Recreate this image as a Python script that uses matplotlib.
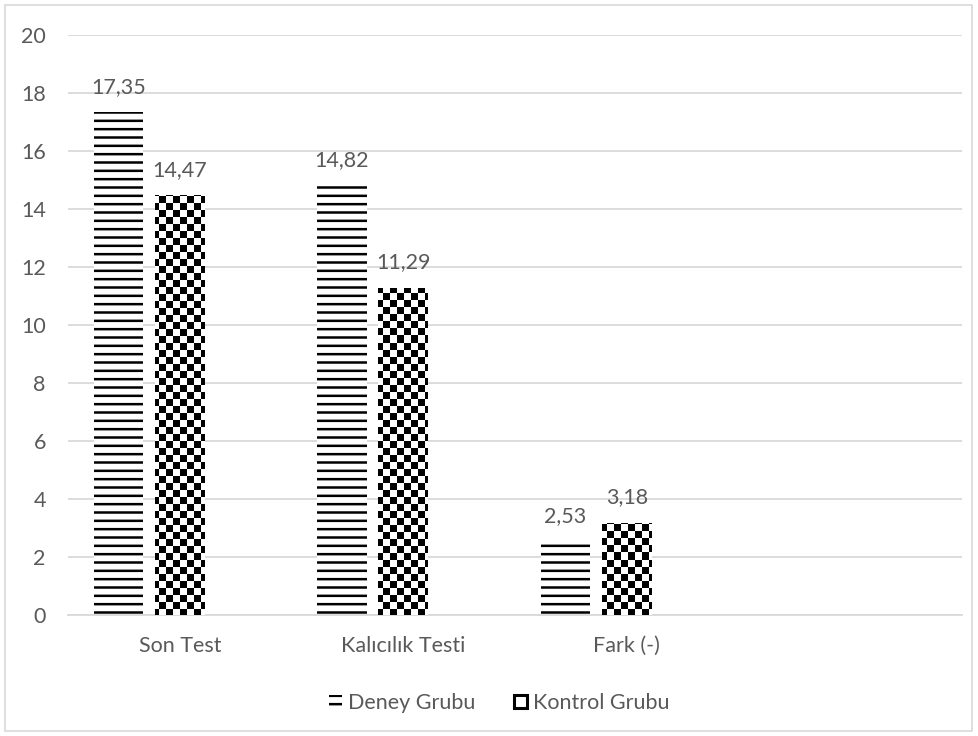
import numpy as np
import matplotlib
matplotlib.use('Agg')
import matplotlib.pyplot as plt
from matplotlib.patches import Patch, Rectangle

# veriler
kategoriler = ['Son Test', 'Kalıcılık Testi', 'Fark (-)', '']
deney = [17.35, 14.82, 2.53]
kontrol = [14.47, 11.29, 3.18]
seriler = ['Deney Grubu', 'Kontrol Grubu']

plt.rcParams['font.family'] = ['Lato', 'DejaVu Sans']
plt.rcParams['hatch.linewidth'] = 1.8
yazi = '#595959'
izgara = '#d9d9d9'
boyut = 15.5

fig = plt.figure(figsize=(9.79, 7.36), dpi=100)
ax = fig.add_axes([0.0695, 0.1644, 0.9131, 0.788])

x = np.arange(len(deney))
genislik = 0.222
kayma = 0.274

b1 = ax.bar(x - kayma, deney, genislik, color='white', edgecolor='black',
            linewidth=0, hatch='--', zorder=2)
b2 = ax.bar(x, kontrol, genislik, color='white', edgecolor='black',
            linewidth=0, zorder=2)

# dama deseni: eksen boyutunda piksel görüntüsü (7 px kare), kontrol çubuklarına kırpılıyor
kutu = ax.get_window_extent()
w, h = int(round(kutu.width)), int(round(kutu.height))
hucre = 7
yy, xx = np.mgrid[0:h, 0:w]
dama = ((yy // hucre + xx // hucre) % 2).astype(float)
for cubuk in b2:
    im = ax.imshow(dama, cmap='gray', extent=[0, 1, 0, 1], transform=ax.transAxes,
                   interpolation='nearest', aspect='auto', zorder=3)
    im.set_clip_path(cubuk)

for xs, vals in [(x - kayma, deney), (x, kontrol)]:
    for xi, v in zip(xs, vals):
        ax.annotate(f'{v:.2f}'.replace('.', ','), (xi, v), xytext=(0, 11),
                    textcoords='offset points', ha='center', va='bottom',
                    fontsize=boyut, color=yazi)

ax.set_xlim(-0.5, 3.5)
ax.set_ylim(0, 20)
ax.set_yticks(range(0, 21, 2))
ax.set_xticks(range(len(kategoriler)))
ax.set_xticklabels(kategoriler)
ax.tick_params(length=0, labelsize=boyut, colors=yazi)
ax.tick_params(axis='y', pad=16)
ax.tick_params(axis='x', pad=15)
ax.grid(axis='y', color=izgara, linewidth=1.3, zorder=0)
for s in ['left', 'right', 'top']:
    ax.spines[s].set_visible(False)
ax.spines['bottom'].set_color(izgara)
ax.spines['bottom'].set_linewidth(1.3)

tutamaklar = [Patch(facecolor='white', edgecolor='black', linewidth=0, hatch='--'),
              Patch(facecolor='white', edgecolor='black', linewidth=2.2)]
fig.legend(tutamaklar, seriler, loc='center', bbox_to_anchor=(0.51, 0.045),
           ncol=2, frameon=False, fontsize=boyut, labelcolor=yazi,
           handlelength=0.6, handleheight=0.55, handletextpad=0.3, columnspacing=1.8)

fig.add_artist(Rectangle((0.005, 0.007), 0.988, 0.986, transform=fig.transFigure,
                         fill=False, edgecolor=izgara, linewidth=1.2))

fig.savefig('out.png', dpi=100)
